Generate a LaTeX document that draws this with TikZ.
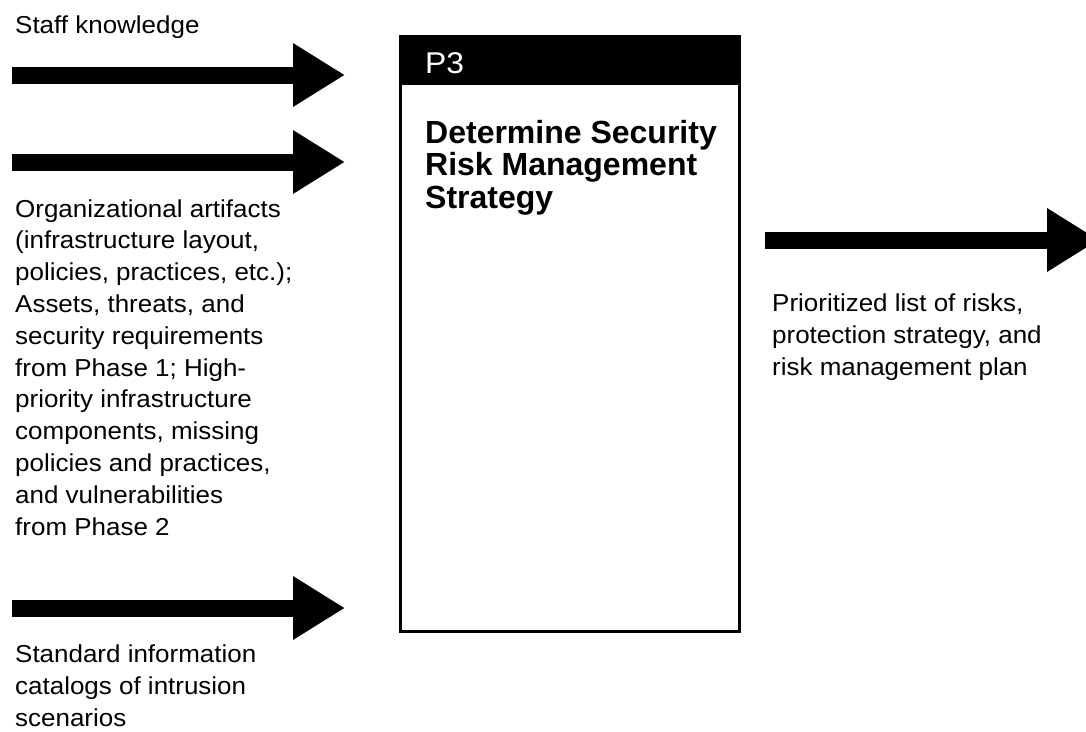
\documentclass[tikz,border=0pt]{standalone}
\usepackage{fontspec}
\setmainfont{Liberation Sans}[FakeStretch=1.06]
\newfontfamily\titlefont{Liberation Sans}
\usetikzlibrary{arrows.meta,positioning}

\begin{document}
\begin{tikzpicture} [
                x=1pt, y=-1pt,
                flow/.style = {draw, line width=17pt, -{Triangle[length=52pt,width=60pt]}},
                flowtext/.style = {anchor=base west, align=left, inner sep=0pt,
                    font=\fontsize{24.5}{31.8}\selectfont},
                process/.style = {draw, line width=3pt, inner sep=0pt, anchor=north west,
                    minimum width=339pt, minimum height=595pt},
            ]
            \useasboundingbox (0,0) rectangle (1086,731);
            % First we draw the process box
            \node[process] (p3) at (399,35) {};
            \node[fill=black, inner sep=0pt, anchor=north west,
                minimum width=339pt, minimum height=50pt] (head) at (p3.north west) {};
            \node[anchor=base west, inner sep=0pt, text=white,
                font=\fontsize{30}{30}\selectfont] (id) at (425,73) {P3};
            % multi-line nodes sit on the baseline of their last line
            \node[anchor=base west, align=left, inner sep=0pt,
                font=\titlefont\bfseries\fontsize{32}{32.5}\selectfont] (title) at (425,208)
                {Determine Security\\Risk Management\\Strategy};
            % Inputs and output as thick arrows
            \foreach \name/\y in {staff/75, artifacts/162, catalogs/608} {
                \coordinate (\name-from) at (12,\y);
                \coordinate (\name-to) at (345,\y);
                \path[flow] (\name-from) -- (\name-to);
            }
            \coordinate (risks-from) at (765,240);
            \coordinate (risks-to) at (1099,240);
            \path[flow] (risks-from) -- (risks-to);
            % Labels of the arrows
            \node[flowtext] (staff) at (15,33) {Staff knowledge};
            \node[flowtext] (artifacts) at (15,535) {Organizational artifacts\\
                (infrastructure layout,\\policies, practices, etc.);\\
                Assets, threats, and\\security requirements\\from Phase 1; High-\\
                priority infrastructure\\components, missing\\policies and practices,\\
                and vulnerabilities\\from Phase 2};
            \node[flowtext] (catalogs) at (15,726) {Standard information\\
                catalogs of intrusion\\scenarios};
            \node[flowtext] (risks) at (772,375) {Prioritized list of risks,\\
                protection strategy, and\\risk management plan};
        \end{tikzpicture}
\end{document}
